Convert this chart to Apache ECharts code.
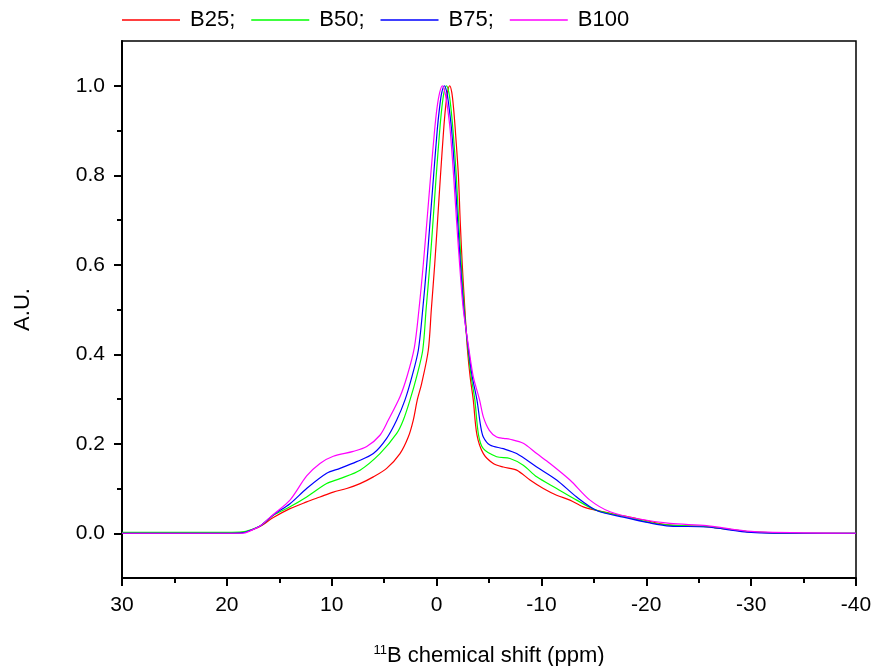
<!DOCTYPE html>
<html>
<head>
<meta charset="utf-8">
<script src="https://cdn.jsdelivr.net/npm/echarts@6/dist/echarts.min.js"></script>
<style>
html,body{margin:0;padding:0;background:#fff;}
#chart{width:872px;height:666px;}
</style>
</head>
<body>
<div id="chart"></div>
<script>
// series names
const seriesNames = ['B25;', 'B50;', 'B75;', 'B100'];
// [ppm, intensity] pairs
const b25 = [[30,0],[25,0],[20,0],[18.5,0.002],[17.8,0.006],[16.84,0.015],[15.57,0.035],[13.98,0.055],[12.39,0.070],[11.12,0.081],[9.85,0.092],[8.57,0.100],[7.30,0.111],[6.03,0.126],[4.76,0.145],[3.49,0.178],[2.70,0.215],[2.22,0.253],[1.84,0.298],[1.42,0.335],[0.79,0.409],[0.50,0.5],[0.18,0.6],[-0.1,0.7],[-0.375,0.8],[-0.67,0.9],[-0.85,0.95],[-1.04,0.985],[-1.25,1.0],[-1.45,0.985],[-1.62,0.95],[-1.79,0.9],[-2.08,0.8],[-2.25,0.7],[-2.45,0.6],[-2.7,0.5],[-2.95,0.409],[-3.2,0.35],[-3.5,0.298],[-3.85,0.22],[-4.46,0.178],[-5.41,0.156],[-6.36,0.148],[-7.64,0.141],[-8.91,0.119],[-10.18,0.100],[-11.45,0.085],[-12.72,0.074],[-13.99,0.059],[-15.90,0.048],[-19.08,0.033],[-22.26,0.018],[-25.76,0.015],[-30,0.003],[-35,0.0],[-40,0.0]];
const b50 = [[30,0.002],[25,0.002],[20,0.002],[18.5,0.003],[17.8,0.007],[16.84,0.016],[15.57,0.040],[13.98,0.059],[12.39,0.081],[10.48,0.111],[9.21,0.122],[7.30,0.141],[5.40,0.178],[3.80,0.223],[3.17,0.253],[2.53,0.298],[1.9,0.35],[1.32,0.409],[1.0,0.5],[0.64,0.6],[0.33,0.7],[0.03,0.8],[-0.3,0.9],[-0.5,0.95],[-0.71,0.985],[-0.95,1.0],[-1.17,0.985],[-1.37,0.95],[-1.57,0.9],[-1.88,0.8],[-2.1,0.7],[-2.36,0.6],[-2.65,0.5],[-3.0,0.409],[-3.3,0.35],[-3.65,0.298],[-4.0,0.22],[-4.46,0.189],[-5.73,0.171],[-7.00,0.167],[-8.27,0.152],[-9.55,0.126],[-11.45,0.100],[-13.36,0.074],[-15.27,0.051],[-17.8,0.038],[-20.35,0.024],[-22.26,0.018],[-25.76,0.015],[-30,0.003],[-35,0.0],[-40,0.0]];
const b75 = [[30,0],[25,0],[20,0],[18.5,0.001],[17.8,0.006],[16.84,0.016],[15.57,0.041],[13.98,0.066],[12.39,0.100],[10.48,0.134],[9.21,0.145],[7.62,0.160],[6.03,0.178],[4.76,0.212],[3.80,0.253],[3.01,0.298],[2.35,0.35],[1.74,0.409],[1.32,0.5],[0.94,0.6],[0.61,0.7],[0.28,0.8],[-0.06,0.9],[-0.28,0.95],[-0.5,0.985],[-0.75,1.0],[-0.98,0.985],[-1.2,0.95],[-1.44,0.9],[-1.75,0.8],[-2.0,0.7],[-2.28,0.6],[-2.6,0.5],[-3.05,0.409],[-3.4,0.35],[-3.85,0.298],[-4.2,0.24],[-4.46,0.215],[-5.09,0.197],[-6.36,0.189],[-7.64,0.178],[-9.55,0.148],[-11.45,0.119],[-13.36,0.081],[-15.27,0.051],[-17.81,0.036],[-20.35,0.023],[-22.26,0.016],[-25.76,0.014],[-30,0.002],[-35,0.0],[-40,0.0]];
const b100 = [[30,0],[25,0],[20,0],[18.5,0.0],[17.8,0.005],[16.84,0.016],[15.57,0.042],[13.98,0.074],[12.39,0.128],[11.12,0.156],[9.85,0.172],[7.94,0.183],[6.66,0.194],[5.40,0.219],[4.60,0.253],[3.49,0.305],[2.8,0.352],[2.12,0.415],[1.68,0.5],[1.27,0.6],[0.91,0.7],[0.56,0.8],[0.19,0.9],[-0.04,0.95],[-0.3,0.985],[-0.55,1.0],[-0.8,0.985],[-1.05,0.95],[-1.3,0.9],[-1.62,0.8],[-1.9,0.7],[-2.2,0.6],[-2.55,0.5],[-3.1,0.409],[-3.5,0.35],[-4.1,0.298],[-4.46,0.26],[-5.03,0.23],[-5.73,0.215],[-6.4,0.212],[-7.00,0.210],[-8.27,0.201],[-9.55,0.178],[-10.82,0.156],[-12.72,0.119],[-14.63,0.074],[-16.54,0.048],[-19.08,0.033],[-22.26,0.022],[-25.76,0.017],[-30,0.004],[-35,0.001],[-40,0.0]];
const seriesData = [b25, b50, b75, b100];
const seriesColors = ['#ff0000', '#00ff00', '#0000ff', '#ff00ff'];
// tick values
const yMajorTicks = [0, 0.2, 0.4, 0.6, 0.8, 1.0];
const yMinorTicks = [0.1, 0.3, 0.5, 0.7, 0.9];

const font = 'Liberation Sans, Arial, sans-serif';
const chart = echarts.init(document.getElementById('chart'), null, {renderer: 'canvas'});
chart.setOption({
  animation: false,
  backgroundColor: '#fff',
  textStyle: {fontFamily: font, color: '#000'},
  legend: {
    left: 122, top: 9, padding: 0,
    icon: 'rect', itemWidth: 58, itemHeight: 1.5, itemGap: 16,
    textStyle: {fontFamily: font, fontSize: 22, color: '#000', padding: [0, 0, 0, 5]},
    data: seriesNames
  },
  grid: {left: 122, right: 16, top: 41, bottom: 88, outerBoundsMode: 'none', containLabel: false,
    show: true, borderColor: '#000', borderWidth: 1.5, backgroundColor: 'transparent'},
  xAxis: {
    type: 'value', inverse: true, min: -40, max: 30, interval: 10,
    axisLine: {show: true, onZero: false, lineStyle: {color: '#000', width: 2}},
    axisTick: {show: true, length: 8, lineStyle: {color: '#000', width: 2}},
    minorTick: {show: true, splitNumber: 2, length: 5, lineStyle: {color: '#000', width: 2}},
    axisLabel: {fontFamily: font, fontSize: 21, color: '#000', margin: 17},
    splitLine: {show: false},
    name: '{sup|11}B chemical shift (ppm)',
    nameLocation: 'middle', nameGap: 66,
    nameTextStyle: {fontFamily: font, fontSize: 22, color: '#000',
      rich: {sup: {fontFamily: font, fontSize: 13, color: '#000', padding: [0, 0, 10, 0]}}}
  },
  yAxis: [{
    type: 'value', min: -0.1, max: 1.1,
    axisLine: {show: true, onZero: false, lineStyle: {color: '#000', width: 2}},
    axisTick: {show: true, length: 8, customValues: yMajorTicks, lineStyle: {color: '#000', width: 2}},
    axisLabel: {fontFamily: font, fontSize: 21, color: '#000', margin: 17, customValues: yMajorTicks,
      formatter: v => v.toFixed(1)},
    splitLine: {show: false},
    name: 'A.U.', nameLocation: 'middle', nameGap: 88,
    nameTextStyle: {fontFamily: font, fontSize: 22, color: '#000'}
  }, {
    type: 'value', min: -0.1, max: 1.1, position: 'left',
    axisLine: {show: false, onZero: false},
    axisTick: {show: true, length: 5, customValues: yMinorTicks, lineStyle: {color: '#000', width: 2}},
    axisLabel: {show: false},
    splitLine: {show: false}
  }],
  series: seriesNames.map((n, i) => ({
    name: n, type: 'line', data: seriesData[i], yAxisIndex: 0,
    symbol: 'none', smooth: 0.3,
    lineStyle: {color: seriesColors[i], width: 1.2},
    itemStyle: {color: seriesColors[i]}
  }))
});
</script>
</body>
</html>
